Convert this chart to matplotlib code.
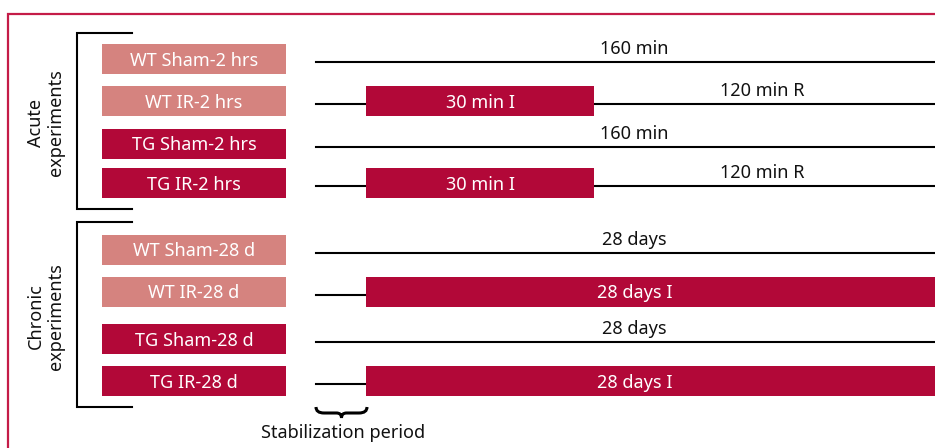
import matplotlib
matplotlib.use("Agg")
import matplotlib.pyplot as plt
from matplotlib.path import Path
from matplotlib.patches import PathPatch, Rectangle

plt.rcParams['font.family'] = ['Noto Sans', 'DejaVu Sans']

# Daten
groups = ["Acute\nexperiments", "Chronic\nexperiments"]
row_labels = ["WT Sham-2 hrs", "WT IR-2 hrs", "TG Sham-2 hrs", "TG IR-2 hrs",
              "WT Sham-28 d", "WT IR-28 d", "TG Sham-28 d", "TG IR-28 d"]
genotype = ["WT", "WT", "TG", "TG", "WT", "WT", "TG", "TG"]
protocol = ["sham", "ir", "sham", "ir", "sham", "ir", "sham", "ir"]
group_of_row = [0, 0, 0, 0, 1, 1, 1, 1]
sham_text = ["160 min", "28 days"]
ischemia_text = ["30 min I", "28 days I"]
reperfusion_text = ["120 min R", None]
stab_label = "Stabilization period"

# Layout (pixel)
W, H = 935, 448
row_y = [59.5, 101, 144, 183, 250, 292, 339, 381]
box_x0, box_x1, box_h = 102, 286, 30
t_start, stab_end = 316, 366
isch_end = [594, W]
t_end = 960
sham_text_x = 634
isch_text_x = [480, 635]
brackets = [(33, 209), (222, 407)]
colors = {"WT": "#d5837f", "TG": "#b20838"}
frame_color = "#c41c48"
fs = 13

fig = plt.figure(figsize=(W / 100, H / 100), dpi=100)
ax = fig.add_axes([0, 0, 1, 1])
ax.set_xlim(0, W)
ax.set_ylim(H, 0)
ax.axis("off")

# roter Rahmen
ax.plot([8, 8, W + 5], [H + 5, 14, 14], color=frame_color, lw=1.6,
        solid_joinstyle="miter", clip_on=False)

# Klammern + Gruppenbeschriftung
for g, (top, bot) in enumerate(brackets):
    ax.plot([132, 77, 77, 132], [top, top, bot, bot], color="black", lw=1.5,
            solid_joinstyle="miter")
    ax.text(46, (top + bot) / 2 + 2, groups[g], rotation=90, ha="center",
            va="center", fontsize=fs, linespacing=1.1, color="#111111")

for i, lab in enumerate(row_labels):
    y = row_y[i]
    g = group_of_row[i]
    ax.add_patch(Rectangle((box_x0, y - box_h / 2), box_x1 - box_x0, box_h,
                           color=colors[genotype[i]], lw=0))
    ax.text((box_x0 + box_x1) / 2, y + 6.5, lab, ha="center", va="baseline",
            color="white", fontsize=fs)
    ly = y + 3
    if protocol[i] == "sham":
        ax.plot([t_start, t_end], [ly, ly], color="black", lw=1.5)
        ax.text(sham_text_x, ly - 8, sham_text[g], ha="center", va="baseline",
                fontsize=fs, color="#111111")
    else:
        ax.plot([t_start, stab_end], [ly, ly], color="black", lw=1.5)
        ax.add_patch(Rectangle((stab_end, y - box_h / 2), isch_end[g] - stab_end,
                               box_h, color=colors["TG"], lw=0, zorder=3))
        ax.text(isch_text_x[g], y + 6.5, ischemia_text[g], ha="center",
                va="baseline", color="white", fontsize=fs, zorder=4)
        if reperfusion_text[g]:
            ax.plot([isch_end[g], t_end], [ly, ly], color="black", lw=1.5)
            ax.text(762, ly - 8, reperfusion_text[g],
                    ha="center", va="baseline", fontsize=fs, color="#111111")

# geschweifte Klammer unter der Stabilisierung
x0, x1 = t_start, stab_end + 1
xm = (x0 + x1) / 2
yt, yb, ytip = 407, 413, 418
verts = [(x0, yt), (x0, yb), (x0 + 8, yb),
         (xm - 5, yb), (xm, yb), (xm, ytip),
         (xm, yb), (xm + 5, yb),
         (x1 - 8, yb), (x1, yb), (x1, yt)]
codes = [Path.MOVETO, Path.CURVE3, Path.CURVE3,
         Path.LINETO, Path.CURVE3, Path.CURVE3,
         Path.CURVE3, Path.CURVE3,
         Path.LINETO, Path.CURVE3, Path.CURVE3]
ax.add_patch(PathPatch(Path(verts, codes), fill=False, lw=2.2,
                       edgecolor="black", capstyle="butt"))
ax.text(343, 438, stab_label, ha="center", va="baseline", fontsize=fs,
        color="#111111")

fig.savefig("out.png", dpi=100)
